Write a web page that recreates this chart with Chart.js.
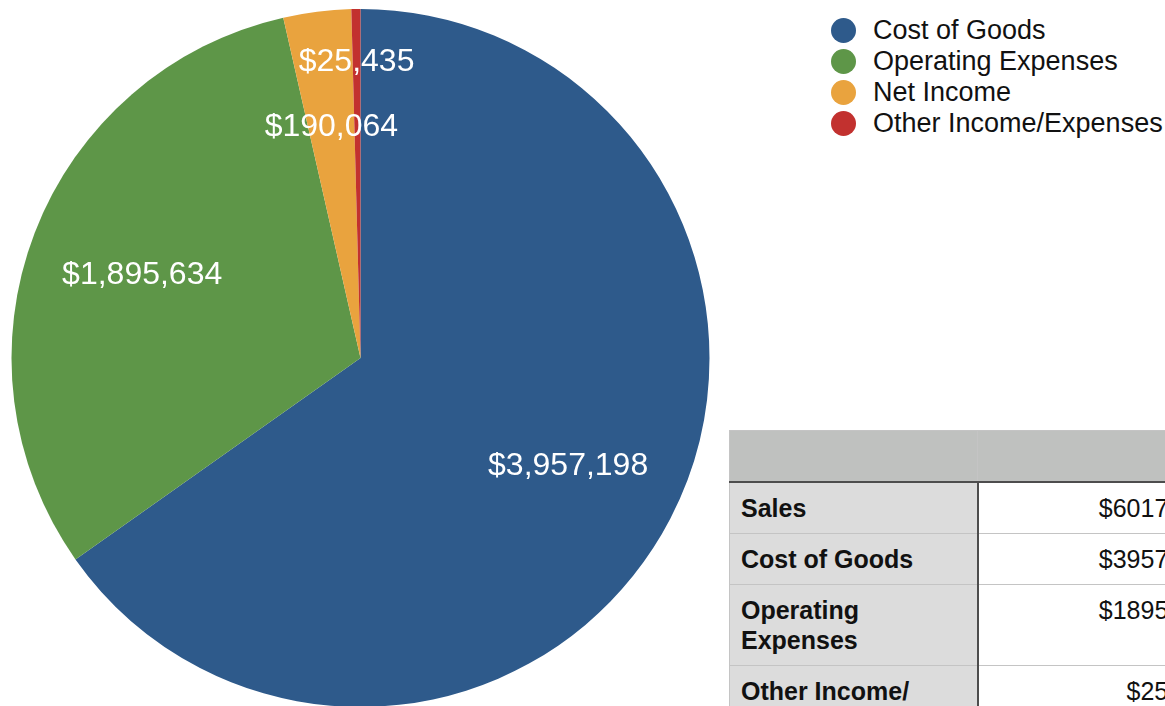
<!DOCTYPE html>
<html>
<head>
<meta charset="utf-8">
<script src="https://cdn.jsdelivr.net/npm/chart.js@4.4.1/dist/chart.umd.min.js"></script>
<style>
  html, body { margin: 0; padding: 0; background: #fff; overflow: hidden; width: 1165px; height: 706px; }
  #wrap { position: absolute; left: 0; top: 0; width: 722px; height: 716px; }
  #legend { position: absolute; left: 831px; top: 15px; font-family: "Liberation Sans", Arial, sans-serif; font-size: 27px; color: #111; }
  .item { height: 31px; line-height: 31px; white-space: nowrap; position: relative; padding-left: 42px; }
  .dot { position: absolute; left: 0; top: 3px; width: 25px; height: 25px; border-radius: 50%; }
  table { position: absolute; left: 729px; top: 430px; width: 492px; border-collapse: collapse; font-family: "Liberation Sans", Arial, sans-serif; font-size: 25px; color: #111; table-layout: fixed; }
  td, th { border: 1px solid #c4c4c4; padding: 10px 11px 10px 11px; line-height: 30px; vertical-align: top; }
  th { background: #bfc1bf; height: 30px; }
  thead th { border-bottom: 2px solid #4d4d4d; }
  td.name { background: #dcdcdc; font-weight: bold; border-right: 2px solid #4d4d4d; }
  td.val { background: #fff; text-align: right; }
</style>
</head>
<body>
<div id="wrap"><canvas id="pieChart"></canvas></div>
<div id="legend"></div>
<table id="tabla"></table>
<script>
// Datos del gráfico
const categorias = ['Cost of Goods', 'Operating Expenses', 'Net Income', 'Other Income/Expenses'];
const valores = [3957198, 1895634, 190064, 25435];
const colores = ['#2e5a8b', '#5e9648', '#e9a33e', '#c2312f'];

// Datos de la tabla
const filasTabla = ['Sales', 'Cost of Goods', 'Operating Expenses', 'Other Income/Expenses', 'Net Income'];
const valoresTabla = [6017461, 3957198, 1895634, 25435, 190064];

const dinero = v => '$' + v.toLocaleString('en-US');

// Etiquetas blancas dentro de cada porción
const etiquetasPlugin = {
    id: 'etiquetas',
    afterDatasetsDraw(chart) {
        const ctx = chart.ctx;
        const meta = chart.getDatasetMeta(0);
        ctx.save();
        ctx.fillStyle = '#fff';
        ctx.font = '32px "Liberation Sans", Arial, sans-serif';
        ctx.textAlign = 'center';
        ctx.textBaseline = 'middle';
        meta.data.forEach((arc, i) => {
            const p = arc.getProps(['x', 'y', 'startAngle', 'endAngle', 'outerRadius'], true);
            const mid = (p.startAngle + p.endAngle) / 2;
            // la porción más pequeña lleva su etiqueta más afuera
            const factor = i === meta.data.length - 1 ? 0.85 : 0.67;
            const r = p.outerRadius * factor;
            ctx.fillText(dinero(chart.data.datasets[0].data[i]), p.x + Math.cos(mid) * r, p.y + Math.sin(mid) * r + 1);
        });
        ctx.restore();
    }
};

const ctx = document.getElementById('pieChart').getContext('2d');
new Chart(ctx, {
    type: 'pie',
    data: {
        labels: categorias,
        datasets: [{
            data: valores,
            backgroundColor: colores,
            borderWidth: 0
        }]
    },
    options: {
        responsive: true,
        maintainAspectRatio: false,
        animation: false,
        layout: {
            padding: { top: 9, bottom: 9, left: 11, right: 12 }
        },
        plugins: {
            legend: { display: false },
            tooltip: { enabled: false }
        }
    },
    plugins: [etiquetasPlugin]
});

// Leyenda en HTML
const leyenda = document.getElementById('legend');
categorias.forEach((c, i) => {
    const div = document.createElement('div');
    div.className = 'item';
    div.innerHTML = '<span class="dot" style="background:' + colores[i] + '"></span>' + c;
    leyenda.appendChild(div);
});

// Tabla
const tabla = document.getElementById('tabla');
let html = '<colgroup><col style="width:248px"><col style="width:244px"></colgroup>';
html += '<thead><tr><th></th><th></th></tr></thead><tbody>';
filasTabla.forEach((f, i) => {
    html += '<tr><td class="name">' + f.replace('/', '/<wbr>') + '</td><td class="val">$' + valoresTabla[i] + '</td></tr>';
});
html += '</tbody>';
tabla.innerHTML = html;
</script>
</body>
</html>
